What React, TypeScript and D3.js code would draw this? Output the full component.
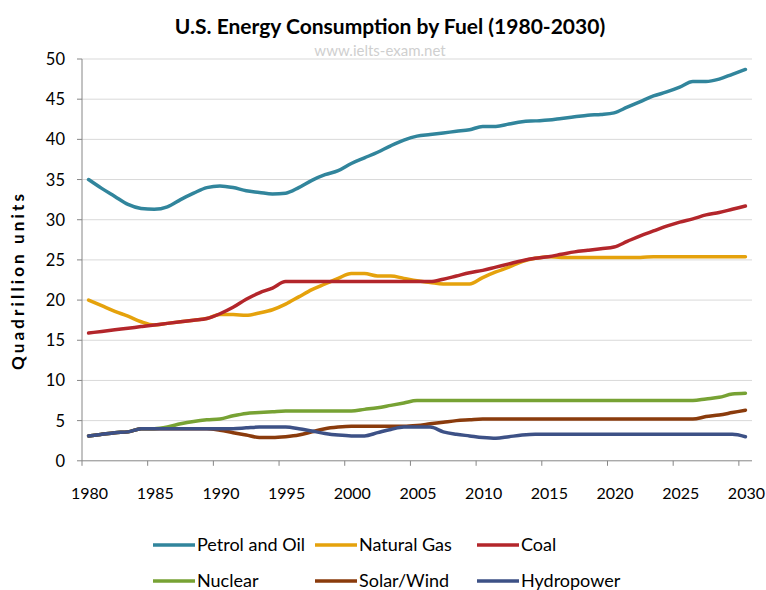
import React from "react";
import * as d3 from "d3";

const years = [
  1980, 1981, 1982, 1983, 1984, 1985, 1986, 1987, 1988, 1989,
  1990, 1991, 1992, 1993, 1994, 1995, 1996, 1997, 1998, 1999,
  2000, 2001, 2002, 2003, 2004, 2005, 2006, 2007, 2008, 2009,
  2010, 2011, 2012, 2013, 2014, 2015, 2016, 2017, 2018, 2019,
  2020, 2021, 2022, 2023, 2024, 2025, 2026, 2027, 2028, 2029, 2030,
];

const petrol = [
  35.0, 33.9, 32.9, 31.9, 31.4, 31.3, 31.6, 32.5, 33.3, 34.0,
  34.2, 34.0, 33.6, 33.4, 33.2, 33.3, 34.0, 34.9, 35.6, 36.1,
  37.0, 37.7, 38.4, 39.2, 39.9, 40.4, 40.6, 40.8, 41.0, 41.2,
  41.6, 41.6, 41.9, 42.2, 42.3, 42.4, 42.6, 42.8, 43.0, 43.1,
  43.3, 44.0, 44.7, 45.4, 45.9, 46.5, 47.2, 47.2, 47.5, 48.1, 48.7,
];

const gas = [
  20.0, 19.3, 18.6, 18.0, 17.3, 16.9, 17.1, 17.3, 17.5, 17.7,
  18.2, 18.2, 18.1, 18.4, 18.8, 19.5, 20.4, 21.3, 22.0, 22.7,
  23.3, 23.3, 23.0, 23.0, 22.7, 22.4, 22.2, 22.0, 22.0, 22.0,
  22.8, 23.5, 24.1, 24.8, 25.2, 25.4, 25.3, 25.3, 25.3, 25.3,
  25.3, 25.3, 25.3, 25.4, 25.4, 25.4, 25.4, 25.4, 25.4, 25.4, 25.4,
];

const coal = [
  15.9, 16.1, 16.3, 16.5, 16.7, 16.9, 17.1, 17.3, 17.5, 17.7,
  18.3, 19.1, 20.1, 20.9, 21.5, 22.3, 22.3, 22.3, 22.3, 22.3,
  22.3, 22.3, 22.3, 22.3, 22.3, 22.3, 22.3, 22.6, 23.0, 23.4,
  23.7, 24.1, 24.5, 24.9, 25.2, 25.4, 25.7, 26.0, 26.2, 26.4,
  26.6, 27.3, 28.0, 28.6, 29.2, 29.7, 30.1, 30.6, 30.9, 31.3, 31.7,
];

const nuclear = [
  3.1, 3.3, 3.5, 3.6, 4.0, 4.0, 4.2, 4.6, 4.9, 5.1,
  5.2, 5.6, 5.9, 6.0, 6.1, 6.2, 6.2, 6.2, 6.2, 6.2,
  6.2, 6.4, 6.6, 6.9, 7.2, 7.5, 7.5, 7.5, 7.5, 7.5,
  7.5, 7.5, 7.5, 7.5, 7.5, 7.5, 7.5, 7.5, 7.5, 7.5,
  7.5, 7.5, 7.5, 7.5, 7.5, 7.5, 7.5, 7.7, 7.9, 8.3, 8.4,
];

const solarWind = [
  3.1, 3.3, 3.5, 3.6, 4.0, 4.0, 4.0, 4.0, 4.0, 4.0,
  3.8, 3.5, 3.2, 2.9, 2.9, 3.0, 3.2, 3.6, 4.0, 4.2,
  4.3, 4.3, 4.3, 4.3, 4.3, 4.4, 4.6, 4.8, 5.0, 5.1,
  5.2, 5.2, 5.2, 5.2, 5.2, 5.2, 5.2, 5.2, 5.2, 5.2,
  5.2, 5.2, 5.2, 5.2, 5.2, 5.2, 5.2, 5.5, 5.7, 6.0, 6.3,
];

const hydro = [
  3.1, 3.3, 3.5, 3.6, 4.0, 4.0, 4.0, 4.0, 4.0, 4.0,
  4.0, 4.0, 4.1, 4.2, 4.2, 4.2, 4.0, 3.7, 3.4, 3.2,
  3.1, 3.1, 3.5, 3.9, 4.2, 4.2, 4.2, 3.6, 3.3, 3.1,
  2.9, 2.8, 3.0, 3.2, 3.3, 3.3, 3.3, 3.3, 3.3, 3.3,
  3.3, 3.3, 3.3, 3.3, 3.3, 3.3, 3.3, 3.3, 3.3, 3.3, 3.0,
];

const seriesNames = ["Petrol and Oil", "Natural Gas", "Coal", "Nuclear", "Solar/Wind", "Hydropower"];
const seriesValues = [petrol, gas, coal, nuclear, solarWind, hydro];
const seriesColors = ["#31859c", "#e5a20c", "#b3262b", "#77a234", "#8a3b0c", "#3d5186"];

const yTicks = [0, 5, 10, 15, 20, 25, 30, 35, 40, 45, 50];
const xLabels = [1980, 1985, 1990, 1995, 2000, 2005, 2010, 2015, 2020, 2025, 2030];

const font = "Lato, 'Open Sans', sans-serif";

export default function App() {
  const width = 766;
  const height = 590;
  const left = 82;
  const right = 752;
  const top = 59;
  const bottom = 460.8;

  // categories sit between tick marks, like Excel
  const x = d3.scaleLinear().domain([1979.5, 2030.5]).range([left, right]);
  const y = d3.scaleLinear().domain([0, 50]).range([bottom, top]);

  const line = d3
    .line<number>()
    .x((d, i) => x(years[i]))
    .y((d) => y(d))
    .curve(d3.curveMonotoneX);

  const legendCols = [153, 315, 477];
  const legendRows = [545, 581];

  return (
    <svg
      width={width}
      height={height}
      style={{ position: "absolute", left: 0, top: 0, background: "#fff" }}
      fontFamily={font}
    >
      <text x={390} y={34} textAnchor="middle" fontSize={21} fontWeight="bold" fill="#000">
        U.S. Energy Consumption by Fuel (1980-2030)
      </text>
      <text x={380} y={56} textAnchor="middle" fontSize={15} fill="#cfcfcf">
        www.ielts-exam.net
      </text>

      {/* grid */}
      {yTicks.slice(1).map((t) => (
        <line key={t} x1={left} x2={right} y1={y(t)} y2={y(t)} stroke="#d9d9d9" strokeWidth={1} />
      ))}

      {/* y axis */}
      <line x1={left} x2={left} y1={top} y2={bottom} stroke="#868686" strokeWidth={1} />
      {yTicks.map((t) => (
        <g key={t}>
          <line x1={left - 5} x2={left} y1={y(t)} y2={y(t)} stroke="#868686" />
          <text x={65} y={y(t) + 6} textAnchor="end" fontSize={16.5} fill="#000">
            {t}
          </text>
        </g>
      ))}
      <text
        transform={`translate(24, 282) rotate(-90)`}
        textAnchor="middle"
        fontSize={17}
        fontWeight="bold"
        fill="#000"
        textLength={176}
        lengthAdjust="spacing"
      >
        Quadrillion units
      </text>

      {/* x axis */}
      <line x1={left} x2={right} y1={bottom} y2={bottom} stroke="#868686" strokeWidth={1} />
      {xLabels.map((yr) => (
        <g key={yr}>
          <line x1={x(yr - 0.5)} x2={x(yr - 0.5)} y1={bottom} y2={bottom + 5} stroke="#868686" />
          <text x={x(yr) + 1} y={499} textAnchor="middle" fontSize={16} fill="#000">
            {yr}
          </text>
        </g>
      ))}

      {/* series */}
      {seriesValues.map((vals, i) => (
        <path
          key={seriesNames[i]}
          d={line(vals) || ""}
          fill="none"
          stroke={seriesColors[i]}
          strokeWidth={3.5}
          strokeLinejoin="round"
          strokeLinecap="round"
        />
      ))}

      {/* legend */}
      {seriesNames.map((name, i) => {
        const lx = legendCols[i % 3];
        const ly = legendRows[Math.floor(i / 3)];
        return (
          <g key={name}>
            <line x1={lx} x2={lx + 42} y1={ly} y2={ly} stroke={seriesColors[i]} strokeWidth={3.5} />
            <text x={lx + 44} y={ly + 6} fontSize={18} fill="#000">
              {name}
            </text>
          </g>
        );
      })}
    </svg>
  );
}
